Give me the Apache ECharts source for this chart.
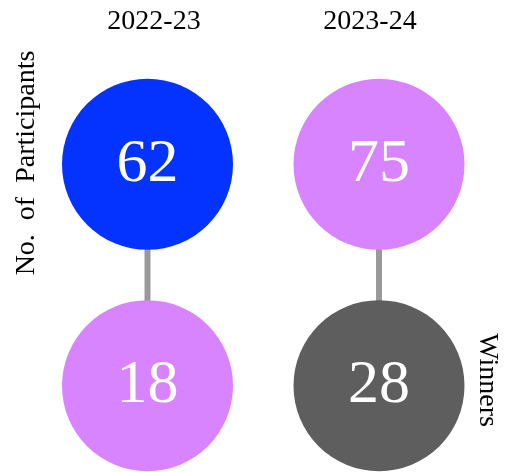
<!DOCTYPE html>
<html>
<head>
<meta charset="utf-8">
<script src="https://cdn.jsdelivr.net/npm/echarts@6/dist/echarts.min.js"></script>
<style>
    html, body { margin: 0; padding: 0; background: #ffffff; }
    #chart { width: 506px; height: 472px; }
</style>
</head>
<body>
<div id="chart"></div>
<script>
// seasons and counts
var seasons = ['2022-23', '2023-24'];
var participants = [62, 75];
var winners = [18, 28];
var participantColors = ['#0433FF', '#D883FF'];
var winnerColors = ['#D883FF', '#5E5E5E'];
var rowNames = ['Winners', 'No.  of  Participants'];

var FONT = '"Liberation Serif", "DejaVu Serif", serif';

var chart = echarts.init(document.getElementById('chart'));

function bubbles(values, colors, row) {
    return {
        type: 'scatter',
        symbolSize: 171,
        clip: false,
        z: 3,
        silent: true,
        data: values.map(function (v, i) {
            return {
                value: [i, row, v],
                itemStyle: { color: colors[i], opacity: 1 }
            };
        }),
        label: {
            show: true,
            position: 'inside',
            color: '#ffffff',
            fontFamily: FONT,
            fontSize: 62,
            formatter: function (p) { return p.value[2]; }
        }
    };
}

// connector lines between the two rows
var links = seasons.map(function (s, i) {
    return {
        type: 'line',
        data: [[i, 0], [i, 1]],
        symbol: 'none',
        z: 1,
        silent: true,
        lineStyle: { color: '#999999', width: 6 }
    };
});

function label(text, x, y, rot) {
    return {
        type: 'text',
        x: x, y: y,
        rotation: rot,
        style: { text: text, fontFamily: FONT, fontSize: 28, fill: '#000', align: 'center', verticalAlign: 'middle' }
    };
}

chart.setOption({
    animation: false,
    grid: { left: 147.5, top: 164.3, width: 231.5, height: 221.4 },
    xAxis: { type: 'value', min: 0, max: 1, show: false },
    yAxis: { type: 'value', min: 0, max: 1, show: false },
    graphic: [
        label(seasons[0], 154, 22, 0),
        label(seasons[1], 370, 22, 0),
        label(rowNames[1], 27, 163, Math.PI / 2),
        label(rowNames[0], 487, 380, -Math.PI / 2)
    ],
    series: links.concat([
        bubbles(participants, participantColors, 1),
        bubbles(winners, winnerColors, 0)
    ])
});
</script>
</body>
</html>
